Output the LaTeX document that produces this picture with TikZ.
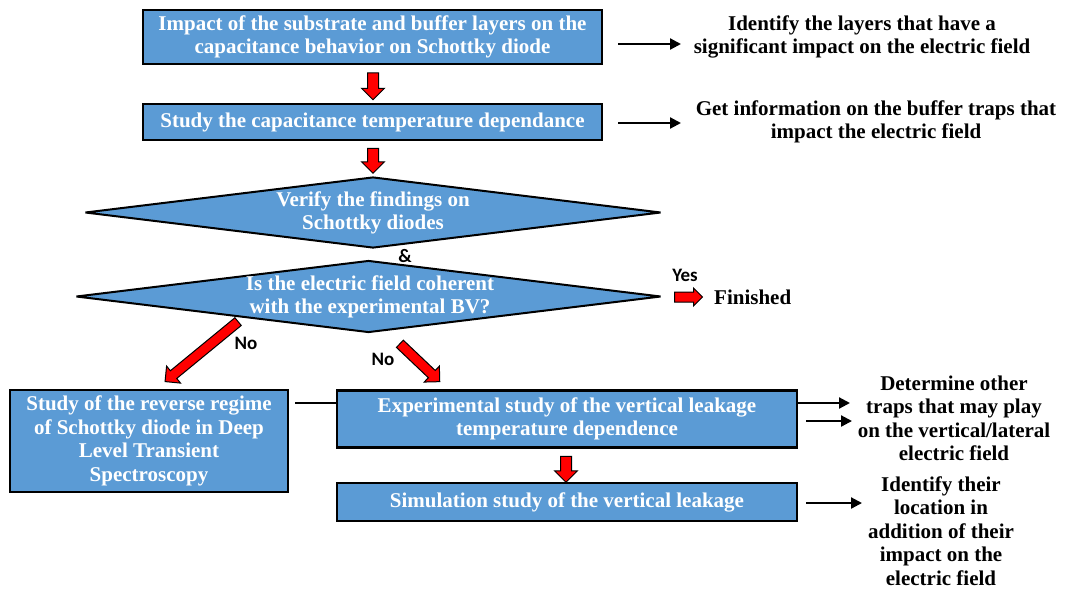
\documentclass[tikz,border=0pt]{standalone}
\usepackage{fontspec}
\setmainfont{Liberation Serif}
\newfontfamily\labfont{Carlito}
\usetikzlibrary{shapes.geometric,shapes.arrows,arrows.meta}
\definecolor{boxblue}{HTML}{5B9BD5}
\begin{document}
\begin{tikzpicture}[x=1pt,y=-1pt,
  txt/.style={font=\bfseries\fontsize{21}{23.5}\selectfont, align=center, inner sep=0pt},
  box/.style={txt, draw=black, line width=2.5pt, fill=boxblue, text=white},
  dia/.style={diamond, draw=black, line width=2pt, fill=boxblue, inner sep=0pt, aspect=1, miter limit=4},
  dtxt/.style={txt, text=white},
  otxt/.style={txt, text=black},
  lab/.style={font=\labfont\bfseries\fontsize{19}{20}\selectfont, inner sep=0pt},
  redarr/.style={single arrow, draw=black, line width=1pt, fill=red, inner xsep=0pt, single arrow head indent=0pt},
  blk/.style={line width=2.2pt, -{Triangle[length=11pt,width=11pt]}},
  conn/.style={line width=2.2pt}
]
\useasboundingbox (0,0) rectangle (1065,590);

% main boxes
\node[box, minimum width=459pt, minimum height=54pt] (b1) at (372.5,37)
  {Impact of the substrate and buffer layers on the\\capacitance behavior on Schottky diode};
\node[box, minimum width=459pt, minimum height=36pt] (b2) at (372.5,122)
  {Study the capacitance temperature dependance};

% diamonds
\node[dia, minimum width=576pt, minimum height=71pt] (d1) at (373,212.5) {};
\node[dtxt] (d1t) at (373,213) {Verify the findings on\\Schottky diodes};
\node[dia, minimum width=585pt, minimum height=72pt] (d2) at (368.5,296.5) {};
\node[dtxt] (d2t) at (370,297) {Is the electric field coherent\\with the experimental BV?};
\node[lab] (amp) at (405,256) {\&};

% bottom boxes
\node[box, minimum width=278pt, minimum height=102pt] (bl) at (149,441)
  {Study of the reverse regime\\of Schottky diode in Deep\\Level Transient\\Spectroscopy};
\node[box, minimum width=460pt, minimum height=57pt] (bm) at (567,419)
  {Experimental study of the vertical leakage\\temperature dependence};
\node[box, minimum width=460pt, minimum height=38pt] (bs) at (567,502)
  {Simulation study of the vertical leakage};

% red block arrows
\node[redarr, rotate=-90, minimum height=27pt, minimum width=22pt, inner ysep=5pt, single arrow head extend=6pt] (r1) at (373,83.5) {};
\node[redarr, rotate=-90, minimum height=25pt, minimum width=22pt, inner ysep=5pt, single arrow head extend=6pt] (r2) at (373,158) {};
\node[redarr, rotate=-90, minimum height=26pt, minimum width=22pt, inner ysep=5pt, single arrow head extend=6pt] (r3) at (566,466.5) {};
\node[redarr, rotate=0, minimum height=28pt, minimum width=17pt, inner ysep=4.5pt, single arrow head extend=4pt] (ry) at (686,297) {};
\node[redarr, rotate=-140.6, minimum height=94.5pt, minimum width=21pt, inner ysep=4.5pt, single arrow head extend=6pt] (rl) at (203.5,350) {};
\node[redarr, rotate=-43.5, minimum height=55pt, minimum width=21pt, inner ysep=4.5pt, single arrow head extend=6pt] (rr) at (418,361) {};

% labels
\node[lab] (yes) at (685,275) {Yes};
\node[lab] (no1) at (246,343) {No};
\node[lab] (no2) at (383,359) {No};
\node[otxt, anchor=west] (fin) at (714,297) {Finished};

% right texts
\node[otxt] (t1) at (862,37) {Identify the layers that have a\\significant impact on the electric field};
\node[otxt] (t2) at (876,122) {Get information on the buffer traps that\\impact the electric field};
\node[otxt] (t3) at (954,418.5) {Determine other\\traps that may play\\on the vertical/lateral\\electric field};
\node[otxt] (t4) at (941,531) {Identify their\\location in\\addition of their\\impact on the\\electric field};

% black arrows
\coordinate (a1s) at (618,44);  \coordinate (a1e) at (681,44);
\coordinate (a2s) at (618,123); \coordinate (a2e) at (681,123);
\coordinate (a3e) at (850,403);
\coordinate (a4s) at (806,421); \coordinate (a4e) at (852,421);
\coordinate (a5s) at (806,503); \coordinate (a5e) at (862,503);
\draw[blk] (a1s) -- (a1e);
\draw[blk] (a2s) -- (a2e);
\draw[blk] (bm.east |- a3e) -- (a3e);
\draw[blk] (a4s) -- (a4e);
\draw[blk] (a5s) -- (a5e);

% connector between left and middle box
\coordinate (cs) at (295,403);
\draw[conn] (cs) -- (cs -| bm.west);
\end{tikzpicture}
\end{document}
